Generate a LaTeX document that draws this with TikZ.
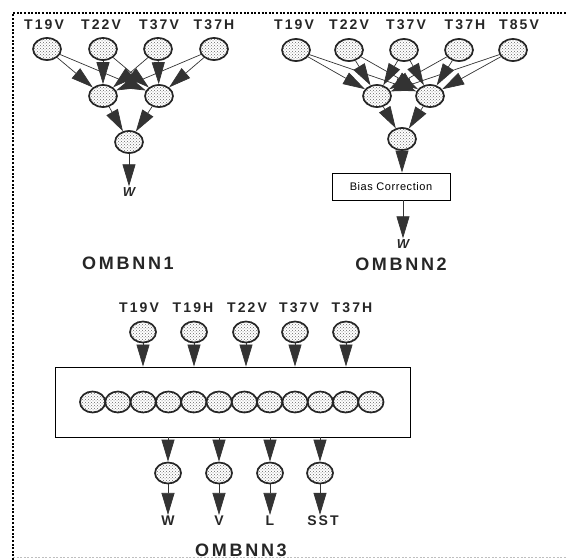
\documentclass[tikz,border=0pt]{standalone}
\usepackage{fontspec}
\setmainfont{Liberation Sans}
\newfontfamily\lblfont{Liberation Sans}[LetterSpace=15]
\newfontfamily\boxfont{Liberation Sans}[LetterSpace=5]
\usetikzlibrary{shapes.geometric,arrows.meta,patterns}

\begin{document}
\begin{tikzpicture}
	[x=1pt,y=-1pt,
	dot/.style={ellipse,minimum width=28pt,minimum height=22pt,inner sep=0pt,draw=black!85,line width=1.7pt,pattern=crosshatch dots,pattern color=black!60},
	sdot/.style={dot,minimum width=26pt,minimum height=21pt},
	conn/.style={draw=black!80,line width=0.7pt,-{Triangle[length=22pt,width=13pt]}},
	lbl/.style={font=\lblfont\bfseries\fontsize{14}{16}\selectfont,text=black!85,inner sep=1pt},
	ttl/.style={font=\lblfont\bfseries\fontsize{18}{21}\selectfont,text=black!85,inner sep=1pt},
	outw/.style={font=\bfseries\itshape\fontsize{13}{15}\selectfont,text=black!85,inner sep=1pt},
	frame/.style={line width=1.3pt,dash pattern=on 2pt off 1.6pt}]
	\useasboundingbox (0,0) rectangle (566,560);
	\draw[frame] (13,560) -- (13,13) -- (566,13);
	\draw[frame,black!25,line width=0.8pt] (13,557) -- (566,557);
	% OMBNN1
	\node[lbl] (t1a) at (44,25) {T19V};
	\node[lbl] (t1b) at (101,25) {T22V};
	\node[lbl] (t1c) at (159,25) {T37V};
	\node[lbl] (t1d) at (214,25) {T37H};
	\node[dot] (a1) at (47,49) {};
	\node[dot] (b1) at (103,49) {};
	\node[dot] (c1) at (158,49) {};
	\node[dot] (d1) at (214,49) {};
	\node[dot] (h1) at (103,96) {};
	\node[dot] (k1) at (159,96) {};
	\node[dot] (o1) at (129,142) {};
	\node[outw] (w1) at (129,192) {W};
	\node[ttl] (n1) at (128,263) {OMBNN1};
	\path (a1) edge[conn] (h1) (a1) edge[conn] (k1);
	\path (b1) edge[conn] (h1) (b1) edge[conn] (k1);
	\path (c1) edge[conn] (h1) (c1) edge[conn] (k1);
	\path (d1) edge[conn] (h1) (d1) edge[conn] (k1);
	\path (h1) edge[conn] (o1) (k1) edge[conn] (o1);
	\path (o1) edge[conn] (w1);
	% OMBNN2
	\node[lbl] (t2a) at (294,25) {T19V};
	\node[lbl] (t2b) at (349,25) {T22V};
	\node[lbl] (t2c) at (406,25) {T37V};
	\node[lbl] (t2d) at (465,25) {T37H};
	\node[lbl] (t2e) at (519,25) {T85V};
	\node[dot] (a2) at (296,50) {};
	\node[dot] (b2) at (349,50) {};
	\node[dot] (c2) at (404,50) {};
	\node[dot] (d2) at (459,50) {};
	\node[dot] (e2) at (513,50) {};
	\node[dot] (h2) at (377,96) {};
	\node[dot] (k2) at (430,96) {};
	\node[dot] (o2) at (402,139) {};
	\node[draw,line width=0.9pt,minimum width=118pt,minimum height=27pt,inner sep=0pt,font=\boxfont\fontsize{11}{13}\selectfont] (bias) at (391,186.5) {Bias Correction};
	\node[outw] (w2) at (403,244) {W};
	\node[ttl] (n2) at (401,264) {OMBNN2};
	\path (a2) edge[conn] (h2) (a2) edge[conn] (k2);
	\path (b2) edge[conn] (h2) (b2) edge[conn] (k2);
	\path (c2) edge[conn] (h2) (c2) edge[conn] (k2);
	\path (d2) edge[conn] (h2) (d2) edge[conn] (k2);
	\path (e2) edge[conn] (h2) (e2) edge[conn] (k2);
	\path (h2) edge[conn] (o2) (k2) edge[conn] (o2);
	\path (o2) edge[conn] (o2 |- bias.north);
	\path (bias.south -| w2) edge[conn] (w2);
	% OMBNN3
	\node[draw,line width=0.9pt,minimum width=355pt,minimum height=70pt,inner sep=0pt] (net) at (232.5,402) {};
	\node[lbl] (t3a) at (139,308) {T19V};
	\node[lbl] (t3b) at (193,308) {T19H};
	\node[lbl] (t3c) at (247,308) {T22V};
	\node[lbl] (t3d) at (299,308) {T37V};
	\node[lbl] (t3e) at (352,308) {T37H};
	\node[sdot] (a3) at (143,332) {};
	\node[sdot] (b3) at (194,332) {};
	\node[sdot] (c3) at (246,332) {};
	\node[sdot] (d3) at (295,332) {};
	\node[sdot] (e3) at (346,332) {};
	\node[sdot,minimum width=25.3pt] (u1) at (92.6,402) {};
	\node[sdot,minimum width=25.3pt] (u2) at (117.9,402) {};
	\node[sdot,minimum width=25.3pt] (u3) at (143.2,402) {};
	\node[sdot,minimum width=25.3pt] (u4) at (168.5,402) {};
	\node[sdot,minimum width=25.3pt] (u5) at (193.8,402) {};
	\node[sdot,minimum width=25.3pt] (u6) at (219.1,402) {};
	\node[sdot,minimum width=25.3pt] (u7) at (244.4,402) {};
	\node[sdot,minimum width=25.3pt] (u8) at (269.7,402) {};
	\node[sdot,minimum width=25.3pt] (u9) at (295,402) {};
	\node[sdot,minimum width=25.3pt] (u10) at (320.3,402) {};
	\node[sdot,minimum width=25.3pt] (u11) at (345.6,402) {};
	\node[sdot,minimum width=25.3pt] (u12) at (370.9,402) {};
	\node[sdot] (p3) at (168,473) {};
	\node[sdot] (q3) at (219,473) {};
	\node[sdot] (r3) at (270,473) {};
	\node[sdot] (s3) at (320,473) {};
	\node[lbl] (w3) at (168,521) {W};
	\node[lbl] (v3) at (219,521) {V};
	\node[lbl] (l3) at (270,521) {L};
	\node[lbl] (sst3) at (323,521) {SST};
	\node[ttl] (n3) at (241,550) {OMBNN3};
	\path (a3) edge[conn] (a3 |- net.north) (b3) edge[conn] (b3 |- net.north);
	\path (c3) edge[conn] (c3 |- net.north) (d3) edge[conn] (d3 |- net.north);
	\path (e3) edge[conn] (e3 |- net.north);
	\path (net.south -| p3) edge[conn] (p3) (net.south -| q3) edge[conn] (q3);
	\path (net.south -| r3) edge[conn] (r3) (net.south -| s3) edge[conn] (s3);
	\path (p3) edge[conn] (p3 |- w3.north) (q3) edge[conn] (q3 |- v3.north);
	\path (r3) edge[conn] (r3 |- l3.north) (s3) edge[conn] (s3 |- sst3.north);
\end{tikzpicture}
\end{document}
